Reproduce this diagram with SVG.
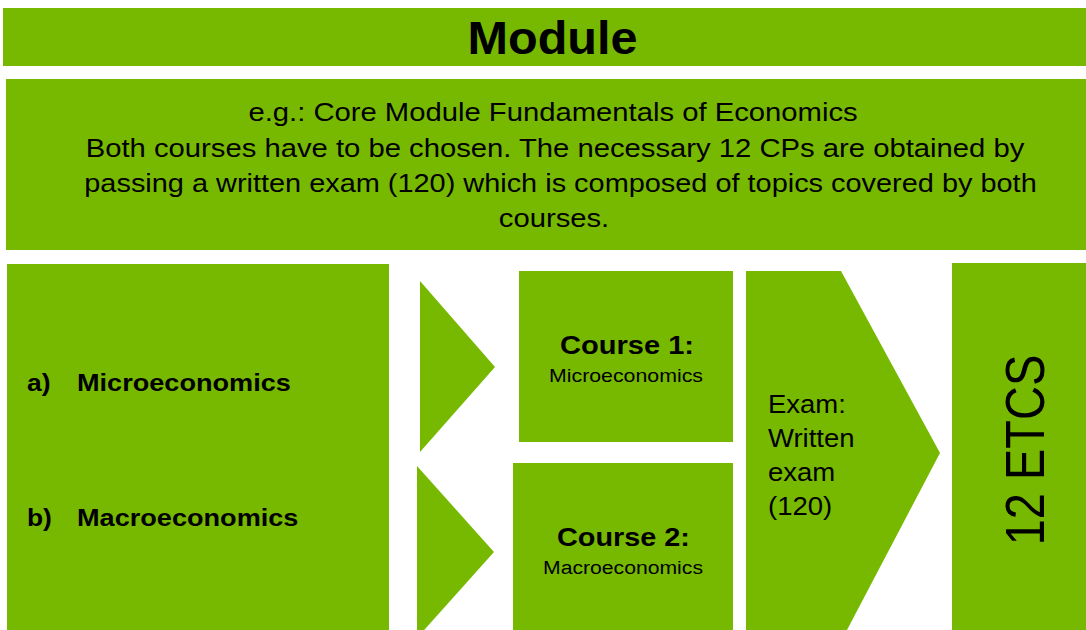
<svg xmlns="http://www.w3.org/2000/svg" width="1086" height="630" viewBox="0 0 1086 630">
<style>
.g{fill:#77b900}
.t{font-family:"Liberation Sans",Arial,sans-serif;fill:#000}
.b{font-weight:bold}
.m{text-anchor:middle}
.d{font-size:25px}
.l{font-size:24px;font-weight:bold}
.e{font-size:25px}
</style>
<rect width="1086" height="630" fill="#fff"/>
<g id="module-title">
<rect class="g" x="3" y="8" width="1083" height="58"/>
<text class="t b m" font-size="47" transform="translate(552.5,54) scale(1.035,1)">Module</text>
</g>
<g id="description">
<rect class="g" x="6" y="79" width="1080" height="171"/>
<text class="t d m" transform="translate(553,121) scale(1.17,1)">e.g.: Core Module Fundamentals  of Economics</text>
<text class="t d m" transform="translate(555,157) scale(1.17,1)">Both courses have to be chosen. The necessary 12 CPs are obtained by</text>
<text class="t d m" transform="translate(560.5,192) scale(1.156,1)">passing a written exam (120) which is composed of topics covered by both</text>
<text class="t d m" transform="translate(554,227) scale(1.17,1)">courses.</text>
</g>
<g id="subjects">
<rect class="g" x="7" y="264" width="382" height="366"/>
<text class="t l" transform="translate(27,391) scale(1.1,1)">a)</text>
<text class="t l" transform="translate(77,391) scale(1.13,1)">Microeconomics</text>
<text class="t l" transform="translate(27,526) scale(1.1,1)">b)</text>
<text class="t l" transform="translate(77,526) scale(1.13,1)">Macroeconomics</text>
</g>
<g id="connectors">
<polygon class="g" points="420,281 495,367 420,452"/>
<polygon class="g" points="417,466 494,552 417,638"/>
</g>
<g id="course1">
<rect class="g" x="519" y="271" width="214" height="171"/>
<text class="t b m" font-size="25" transform="translate(627,354) scale(1.162,1)">Course 1:</text>
<text class="t m" font-size="19" transform="translate(626,382) scale(1.122,1)">Microeconomics</text>
</g>
<g id="course2">
<rect class="g" x="513" y="463" width="220" height="167"/>
<text class="t b m" font-size="25" transform="translate(623.5,546) scale(1.153,1)">Course 2:</text>
<text class="t m" font-size="19" transform="translate(623,574) scale(1.114,1)">Macroeconomics</text>
</g>
<g id="exam">
<polygon class="g" points="746,271 841,271 940,453 847,630 746,630"/>
<text class="t e" transform="translate(768,413) scale(1.1,1)">Exam:</text>
<text class="t e" transform="translate(768,447) scale(1.1,1)">Written</text>
<text class="t e" transform="translate(768,481) scale(1.1,1)">exam</text>
<text class="t e" transform="translate(768,515) scale(1.1,1)">(120)</text>
</g>
<g id="ects">
<rect class="g" x="952" y="263" width="134" height="367"/>
<text class="t m" font-size="47" transform="translate(1044,450) scale(1.2,1) rotate(-90)">12 ETCS</text>
</g>
</svg>
